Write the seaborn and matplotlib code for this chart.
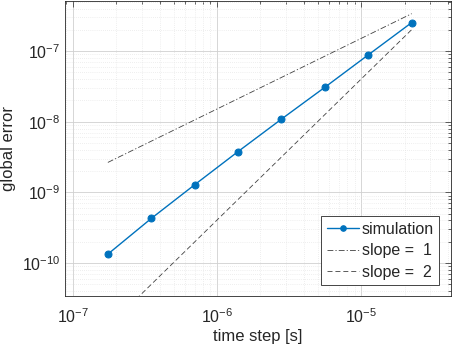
import matplotlib
matplotlib.use("Agg")
import matplotlib.pyplot as plt
import seaborn as sns
import numpy as np
import pandas as pd
from matplotlib.ticker import LogLocator, NullFormatter

# time steps and global error
time_step = [1.75e-7, 3.5e-7, 7.0e-7, 1.4e-6, 2.8e-6, 5.6e-6, 1.12e-5, 2.24e-5]
global_error = [1.33e-10, 4.26e-10, 1.28e-9, 3.78e-9, 1.09e-8, 3.08e-8, 8.87e-8, 2.54e-7]

# reference lines (end points)
ref_step = [1.75e-7, 2.24e-5]
slope1_error = [2.65e-9, 3.4e-7]
slope2_error = [1.24e-11, 2.02e-7]

sns.set_style("white")
plt.rcParams['font.family'] = ['Liberation Sans', 'DejaVu Sans']
plt.rcParams['mathtext.fontset'] = 'custom'
plt.rcParams['mathtext.rm'] = 'Liberation Sans'

df = pd.DataFrame({"time step": time_step, "error": global_error})

fig = plt.figure(figsize=(4.57, 3.52), dpi=100)
ax = fig.add_axes([0.142, 0.158, 0.844, 0.839])

sns.lineplot(data=df, x="time step", y="error", ax=ax, color="#0072BD",
             marker="o", markersize=5, markeredgecolor="#0072BD",
             linewidth=1.0, label="simulation")
ax.plot(ref_step, slope1_error, color="#404040", linestyle=(0, (7, 2.5, 1.5, 2.5)),
        linewidth=0.6, label="slope =  1")
ax.plot(ref_step, slope2_error, color="#404040", linestyle=(0, (6, 3.5)),
        linewidth=0.6, label="slope =  2")

ax.set_xscale("log")
ax.set_yscale("log")
ax.set_xlim(10**-7.055, 10**-4.38)
ax.set_ylim(10**-10.475, 10**-6.29)

ax.xaxis.set_major_locator(LogLocator(base=10, numticks=10))
ax.yaxis.set_major_locator(LogLocator(base=10, numticks=10))
ax.xaxis.set_minor_locator(LogLocator(base=10, subs=np.arange(2, 10), numticks=20))
ax.yaxis.set_minor_locator(LogLocator(base=10, subs=np.arange(2, 10), numticks=20))
ax.xaxis.set_minor_formatter(NullFormatter())
ax.yaxis.set_minor_formatter(NullFormatter())

ax.grid(True, which="major", color="#d0d0d0", linewidth=0.6)
ax.grid(True, which="minor", color="#e0e0e0", linewidth=0.5, linestyle=(0, (1, 2)))
ax.set_axisbelow(True)

for s in ax.spines.values():
    s.set_color("#262626")
    s.set_linewidth(0.6)
ax.tick_params(which="both", direction="in", top=True, right=True,
               color="#262626", width=0.5)
ax.tick_params(which="major", length=4, labelsize=11.5, colors="#262626")
ax.tick_params(which="minor", length=2)
ax.tick_params(axis="x", pad=8)

ax.set_xlabel("time step [s]", fontsize=12, color="#262626", labelpad=2)
ax.set_ylabel("global error", fontsize=12, color="#262626")

leg = ax.legend(loc="lower right", fontsize=11.5, frameon=True, fancybox=False,
                edgecolor="#262626", framealpha=1, handlelength=2.0,
                handletextpad=0.2, borderpad=0.35, labelspacing=0.4,
                borderaxespad=0.7, markerscale=0.8)
leg.get_frame().set_linewidth(0.6)
for t in leg.get_texts():
    t.set_color("#262626")

fig.savefig("out.png", dpi=100)
